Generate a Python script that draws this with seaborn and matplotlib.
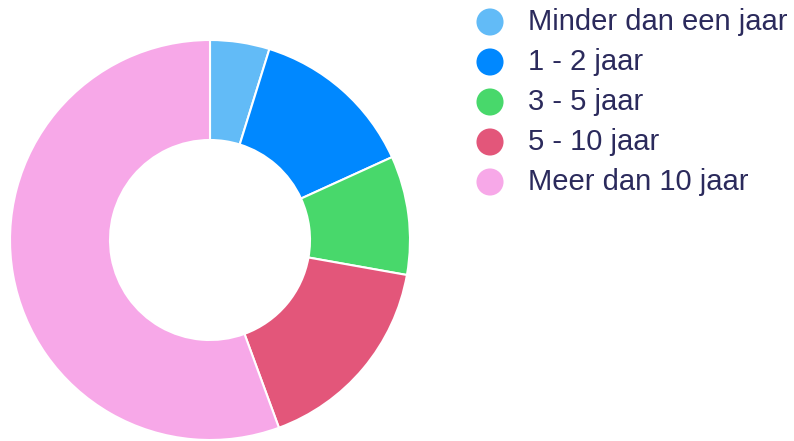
import matplotlib.pyplot as plt
import seaborn as sns

# Years of service categories and share (%) read from the donut
categories = ['Minder dan een jaar', '1 - 2 jaar', '3 - 5 jaar', '5 - 10 jaar', 'Meer dan 10 jaar']
shares = [4.8, 13.4, 9.6, 16.6, 55.6]
colors = ['#62BBF7', '#0088FF', '#48D86B', '#E3567A', '#F7A8E8']

sns.set_theme(style='white')
plt.rcParams['font.family'] = ['Liberation Sans', 'DejaVu Sans']

fig = plt.figure(figsize=(7.94, 4.41), dpi=100)

# Donut
ax = fig.add_axes([10 / 794, 1 / 441, 400 / 794, 400 / 441])
ax.pie(
    shares,
    colors=colors,
    startangle=90,
    counterclock=False,
    radius=1,
    wedgeprops={'width': 0.5, 'edgecolor': 'white', 'linewidth': 1.5},
)
ax.set_xlim(-1.0, 1.0)
ax.set_ylim(-1.0, 1.0)
ax.set_aspect('equal')
ax.axis('off')

# Legend drawn as its own small axes
ax_leg = fig.add_axes([460 / 794, (441 - 202) / 441, 334 / 794, 200 / 441])
rows = list(range(len(categories)))
sns.scatterplot(x=[30] * len(categories), y=rows, hue=categories, palette=colors,
                s=380, linewidth=0, legend=False, ax=ax_leg)
for i, label in zip(rows, categories):
    ax_leg.text(68, i, label, va='center', ha='left', fontsize=21, color='#2B2A5C')
ax_leg.set_xlim(0, 334)
ax_leg.set_ylim(4.5, -0.5)
ax_leg.axis('off')

fig.savefig('out.png', dpi=100)
